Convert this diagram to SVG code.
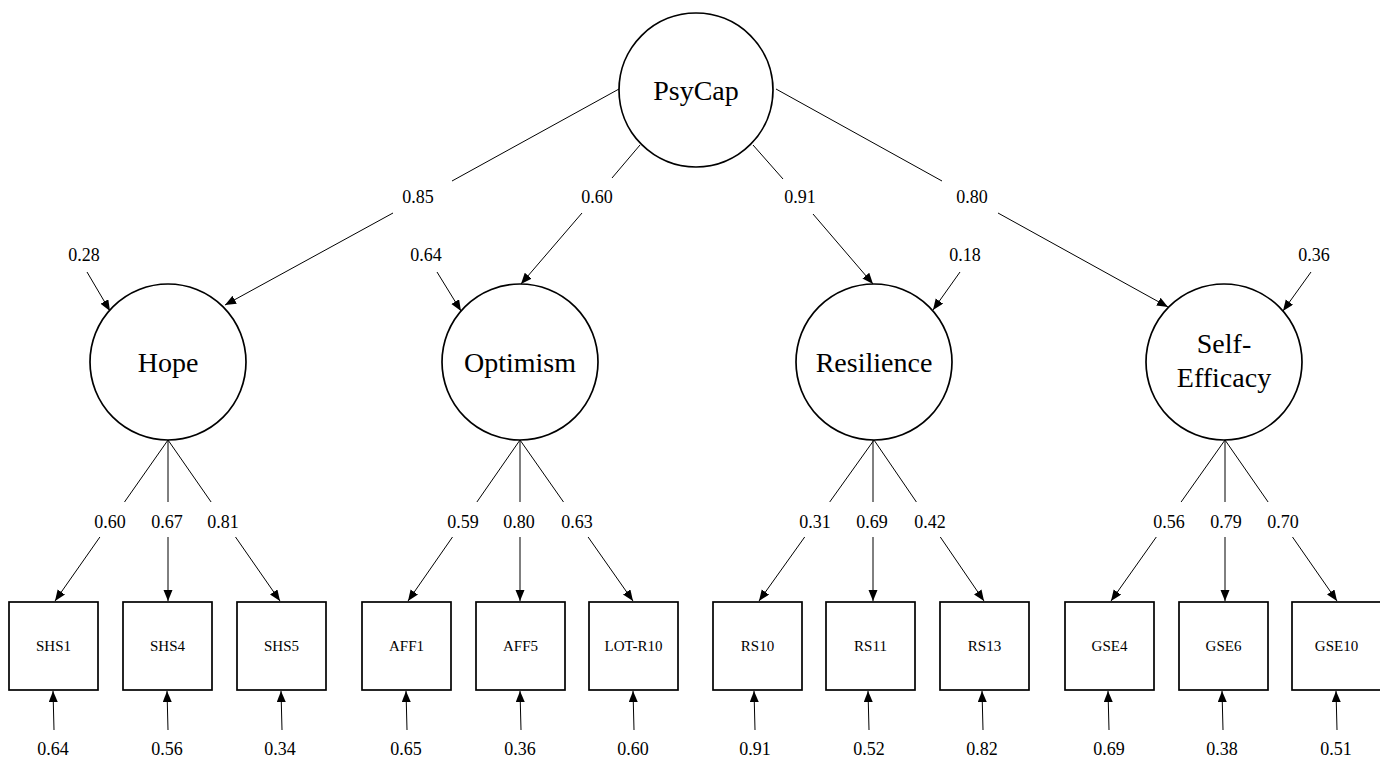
<svg xmlns="http://www.w3.org/2000/svg" width="1380" height="759" viewBox="0 0 1380 759">
<style>
  .lat { fill: #fff; stroke: #000; stroke-width: 1.7; }
  .obs { fill: #fff; stroke: #000; stroke-width: 1.7; }
  .ln { stroke: #000; stroke-width: 1; fill: none; }
  .big { font-family: "Liberation Serif", "Times New Roman", serif; font-size: 28px; text-anchor: middle; fill: #000; }
  .box { font-family: "Liberation Serif", "Times New Roman", serif; font-size: 15px; text-anchor: middle; fill: #000; }
  .num { font-family: "Liberation Serif", "Times New Roman", serif; font-size: 18px; text-anchor: middle; fill: #000; }
</style>
<defs>
  <marker id="ah" markerUnits="userSpaceOnUse" markerWidth="12" markerHeight="10" refX="11" refY="4.5" orient="auto">
    <path d="M0,0 L11,4.5 L0,9 z" fill="#000"/>
  </marker>
</defs>
<rect width="1380" height="759" fill="#fff"/>

<g id="connectors">
  <!-- PsyCap to first-order factors -->
  <line class="ln" x1="619" y1="89" x2="452" y2="181"/>
  <line class="ln" x1="393" y1="213" x2="225" y2="305" marker-end="url(#ah)"/>
  <line class="ln" x1="640" y1="145" x2="612" y2="178"/>
  <line class="ln" x1="582" y1="213" x2="521" y2="284" marker-end="url(#ah)"/>
  <line class="ln" x1="753" y1="145" x2="783" y2="179"/>
  <line class="ln" x1="813" y1="214" x2="873" y2="284" marker-end="url(#ah)"/>
  <line class="ln" x1="776" y1="89" x2="942" y2="181"/>
  <line class="ln" x1="998" y1="213" x2="1168" y2="307" marker-end="url(#ah)"/>

  <!-- disturbances -->
  <line class="ln" x1="87" y1="272" x2="110" y2="311" marker-end="url(#ah)"/>
  <line class="ln" x1="437" y1="272" x2="461" y2="311" marker-end="url(#ah)"/>
  <line class="ln" x1="960" y1="272" x2="933" y2="310" marker-end="url(#ah)"/>
  <line class="ln" x1="1311" y1="272" x2="1283" y2="311" marker-end="url(#ah)"/>

  <!-- Hope loadings -->
  <line class="ln" x1="168" y1="440" x2="124.5" y2="502"/>
  <line class="ln" x1="99.9" y1="537" x2="55" y2="601" marker-end="url(#ah)"/>
  <line class="ln" x1="168" y1="440" x2="168" y2="502"/>
  <line class="ln" x1="168" y1="537" x2="168" y2="601" marker-end="url(#ah)"/>
  <line class="ln" x1="168" y1="440" x2="211.1" y2="502"/>
  <line class="ln" x1="235.5" y1="537" x2="280" y2="601" marker-end="url(#ah)"/>

  <!-- Optimism loadings -->
  <line class="ln" x1="520" y1="440" x2="476.9" y2="502"/>
  <line class="ln" x1="452.5" y1="537" x2="408" y2="601" marker-end="url(#ah)"/>
  <line class="ln" x1="520" y1="440" x2="520" y2="502"/>
  <line class="ln" x1="520" y1="537" x2="520" y2="601" marker-end="url(#ah)"/>
  <line class="ln" x1="520" y1="440" x2="563.5" y2="502"/>
  <line class="ln" x1="588.1" y1="537" x2="633" y2="601" marker-end="url(#ah)"/>

  <!-- Resilience loadings -->
  <line class="ln" x1="874" y1="440" x2="829.7" y2="502"/>
  <line class="ln" x1="804.7" y1="537" x2="759" y2="601" marker-end="url(#ah)"/>
  <line class="ln" x1="873" y1="440" x2="873" y2="502"/>
  <line class="ln" x1="873" y1="537" x2="873" y2="601" marker-end="url(#ah)"/>
  <line class="ln" x1="874" y1="440" x2="916.4" y2="502"/>
  <line class="ln" x1="940.3" y1="537" x2="984" y2="601" marker-end="url(#ah)"/>

  <!-- Self-Efficacy loadings -->
  <line class="ln" x1="1225" y1="440" x2="1181.1" y2="502"/>
  <line class="ln" x1="1156.3" y1="537" x2="1111" y2="601" marker-end="url(#ah)"/>
  <line class="ln" x1="1225" y1="440" x2="1225" y2="502"/>
  <line class="ln" x1="1225" y1="537" x2="1225" y2="601" marker-end="url(#ah)"/>
  <line class="ln" x1="1225" y1="440" x2="1268.1" y2="502"/>
  <line class="ln" x1="1292.5" y1="537" x2="1337" y2="601" marker-end="url(#ah)"/>

  <!-- error terms -->
  <line class="ln" x1="54" y1="730" x2="53" y2="691" marker-end="url(#ah)"/>
  <line class="ln" x1="168" y1="730" x2="167" y2="691" marker-end="url(#ah)"/>
  <line class="ln" x1="282" y1="730" x2="281" y2="691" marker-end="url(#ah)"/>
  <line class="ln" x1="407" y1="730" x2="406" y2="691" marker-end="url(#ah)"/>
  <line class="ln" x1="521" y1="730" x2="520" y2="691" marker-end="url(#ah)"/>
  <line class="ln" x1="634" y1="730" x2="633" y2="691" marker-end="url(#ah)"/>
  <line class="ln" x1="755" y1="730" x2="754" y2="691" marker-end="url(#ah)"/>
  <line class="ln" x1="869" y1="730" x2="868" y2="691" marker-end="url(#ah)"/>
  <line class="ln" x1="983" y1="730" x2="982" y2="691" marker-end="url(#ah)"/>
  <line class="ln" x1="1109" y1="730" x2="1108" y2="691" marker-end="url(#ah)"/>
  <line class="ln" x1="1223" y1="730" x2="1222" y2="691" marker-end="url(#ah)"/>
  <line class="ln" x1="1337" y1="730" x2="1336" y2="691" marker-end="url(#ah)"/>

  <!-- labels -->
  <text class="num" x="418" y="203">0.85</text>
  <text class="num" x="597" y="203">0.60</text>
  <text class="num" x="800" y="203">0.91</text>
  <text class="num" x="972" y="203">0.80</text>

  <text class="num" x="84" y="261">0.28</text>
  <text class="num" x="426" y="261">0.64</text>
  <text class="num" x="965" y="261">0.18</text>
  <text class="num" x="1314" y="261">0.36</text>

  <text class="num" x="110" y="528">0.60</text>
  <text class="num" x="167" y="528">0.67</text>
  <text class="num" x="223" y="528">0.81</text>
  <text class="num" x="463" y="528">0.59</text>
  <text class="num" x="519" y="528">0.80</text>
  <text class="num" x="577" y="528">0.63</text>
  <text class="num" x="815" y="528">0.31</text>
  <text class="num" x="872" y="528">0.69</text>
  <text class="num" x="930" y="528">0.42</text>
  <text class="num" x="1169" y="528">0.56</text>
  <text class="num" x="1226" y="528">0.79</text>
  <text class="num" x="1283" y="528">0.70</text>

  <text class="num" x="53" y="755">0.64</text>
  <text class="num" x="167" y="755">0.56</text>
  <text class="num" x="280" y="755">0.34</text>
  <text class="num" x="406" y="755">0.65</text>
  <text class="num" x="520" y="755">0.36</text>
  <text class="num" x="633" y="755">0.60</text>
  <text class="num" x="755" y="755">0.91</text>
  <text class="num" x="869" y="755">0.52</text>
  <text class="num" x="982" y="755">0.82</text>
  <text class="num" x="1109" y="755">0.69</text>
  <text class="num" x="1222" y="755">0.38</text>
  <text class="num" x="1336" y="755">0.51</text>
</g>

<g id="psycap">
  <circle class="lat" cx="696" cy="90" r="77"/>
  <text class="big" x="696" y="100">PsyCap</text>
</g>
<g id="hope">
  <circle class="lat" cx="168" cy="362" r="78"/>
  <text class="big" x="168" y="372">Hope</text>
</g>
<g id="optimism">
  <circle class="lat" cx="520" cy="362" r="78"/>
  <text class="big" x="520" y="372">Optimism</text>
</g>
<g id="resilience">
  <circle class="lat" cx="874" cy="362" r="78"/>
  <text class="big" x="874" y="372">Resilience</text>
</g>
<g id="self-efficacy">
  <circle class="lat" cx="1224" cy="362" r="78"/>
  <text class="big" x="1224" y="353">Self-</text>
  <text class="big" x="1224" y="387">Efficacy</text>
</g>

<g id="shs1"><rect class="obs" x="9" y="602" width="89" height="88"/><text class="box" x="53.5" y="651">SHS1</text></g>
<g id="shs4"><rect class="obs" x="123" y="602" width="89" height="88"/><text class="box" x="167.5" y="651">SHS4</text></g>
<g id="shs5"><rect class="obs" x="237" y="602" width="89" height="88"/><text class="box" x="281.5" y="651">SHS5</text></g>
<g id="aff1"><rect class="obs" x="362" y="602" width="89" height="88"/><text class="box" x="406.5" y="651">AFF1</text></g>
<g id="aff5"><rect class="obs" x="476" y="602" width="89" height="88"/><text class="box" x="520.5" y="651">AFF5</text></g>
<g id="lot-r10"><rect class="obs" x="589" y="602" width="89" height="88"/><text class="box" x="633.5" y="651">LOT-R10</text></g>
<g id="rs10"><rect class="obs" x="713" y="602" width="89" height="88"/><text class="box" x="757.5" y="651">RS10</text></g>
<g id="rs11"><rect class="obs" x="826" y="602" width="89" height="88"/><text class="box" x="870.5" y="651">RS11</text></g>
<g id="rs13"><rect class="obs" x="940" y="602" width="89" height="88"/><text class="box" x="984.5" y="651">RS13</text></g>
<g id="gse4"><rect class="obs" x="1065" y="602" width="89" height="88"/><text class="box" x="1109.5" y="651">GSE4</text></g>
<g id="gse6"><rect class="obs" x="1179" y="602" width="89" height="88"/><text class="box" x="1223.5" y="651">GSE6</text></g>
<g id="gse10"><rect class="obs" x="1292" y="602" width="89" height="88"/><text class="box" x="1336.5" y="651">GSE10</text></g>
</svg>
